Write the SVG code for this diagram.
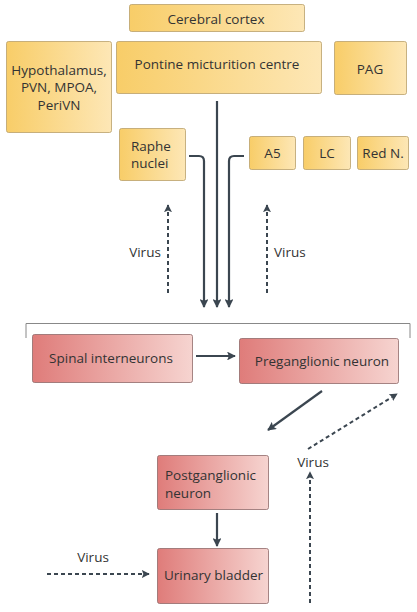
<svg xmlns="http://www.w3.org/2000/svg" width="417" height="612" viewBox="0 0 417 612">
<defs>
<linearGradient id="og" x1="0" y1="0" x2="1" y2="0"><stop offset="0" stop-color="#f8cd68"/><stop offset="1" stop-color="#fde7b6"/></linearGradient>
<linearGradient id="rg" x1="0" y1="0" x2="1" y2="0"><stop offset="0" stop-color="#df7c7a"/><stop offset="1" stop-color="#f6d4d0"/></linearGradient>
<marker id="ah" viewBox="0 0 10 10" refX="9" refY="5" markerWidth="4" markerHeight="4" orient="auto" markerUnits="strokeWidth"><path d="M0,0 L10,5 L0,10 L2,5 z" fill="#3b4650"/></marker>
<marker id="ahd" viewBox="0 0 10 10" refX="9" refY="5" markerWidth="4" markerHeight="4" orient="auto" markerUnits="strokeWidth"><path d="M0,0 L10,5 L0,10 L2,5 z" fill="#3b4650"/></marker>
</defs>
<style>
.o{fill:url(#og);stroke:#b9a06a;stroke-width:0.8}
.r{fill:url(#rg);stroke:#8f6a6a;stroke-width:0.8}
text{font-family:"Open Sans","Liberation Sans",sans-serif;font-size:13.5px;fill:#333;}
.c{text-anchor:middle}
.ln{fill:none;stroke:#3b4650;stroke-width:2.2}
.d{fill:none;stroke:#3b4650;stroke-width:2;stroke-dasharray:4 3}
</style>
<rect width="417" height="612" fill="#fff"/>
<g id="cortex"><rect class="o" x="129.5" y="4.5" width="175" height="27" rx="2"/><text class="c" x="216" y="24">Cerebral cortex</text></g>
<g id="hypothalamus"><rect class="o" x="6.5" y="41.5" width="105" height="91" rx="2"/><text class="c" x="59" y="75">Hypothalamus,</text><text class="c" x="59" y="92">PVN, MPOA,</text><text class="c" x="59" y="110">PeriVN</text></g>
<g id="pmc"><rect class="o" x="116.5" y="41.5" width="205" height="52" rx="2"/><text class="c" x="217" y="69">Pontine micturition centre</text></g>
<g id="pag"><rect class="o" x="334.5" y="41.5" width="72" height="53" rx="2"/><text class="c" x="370" y="74">PAG</text></g>
<g id="raphe"><rect class="o" x="119.5" y="128.5" width="66" height="52" rx="2"/><text x="131" y="151">Raphe</text><text x="131" y="168">nuclei</text></g>
<g id="a5"><rect class="o" x="249.5" y="136.5" width="46" height="33" rx="2"/><text class="c" x="272.5" y="158">A5</text></g>
<g id="lc"><rect class="o" x="303.5" y="136.5" width="47" height="33" rx="2"/><text class="c" x="327" y="158">LC</text></g>
<g id="redn"><rect class="o" x="357.5" y="136.5" width="51" height="33" rx="2"/><text class="c" x="383" y="158">Red N.</text></g>
<g id="bracket"><path d="M26,338 V323.5 H410 V338" fill="none" stroke="#888" stroke-width="1"/></g>
<g id="spinal"><rect class="r" x="32.5" y="334.5" width="160" height="48" rx="2"/><text class="c" x="111" y="363">Spinal interneurons</text></g>
<g id="preganglionic"><rect class="r" x="239.5" y="338.5" width="159" height="45" rx="2"/><text class="c" x="322" y="366">Preganglionic neuron</text></g>
<g id="postganglionic"><rect class="r" x="157.5" y="455.5" width="111" height="54" rx="2"/><text x="165" y="480">Postganglionic</text><text x="165" y="498">neuron</text></g>
<g id="bladder"><rect class="r" x="157.5" y="548.5" width="111" height="55" rx="2"/><text x="164" y="580">Urinary bladder</text></g>
<g id="connectors">
<path class="ln" d="M217,101 V307" marker-end="url(#ah)"/>
<path class="ln" d="M189,156 H199 Q204,156 204,161 V307" marker-end="url(#ah)"/>
<path class="ln" d="M244,156 H234 Q229,156 229,161 V307" marker-end="url(#ah)"/>
<path class="d" d="M168,293 V205" marker-end="url(#ahd)"/>
<path class="d" d="M267,293 V205" marker-end="url(#ahd)"/>
<path class="ln" d="M196,356 H235" marker-end="url(#ah)"/>
<path class="ln" d="M322,391 L268,430" marker-end="url(#ah)"/>
<path class="d" d="M308,449 L397,394" marker-end="url(#ahd)"/>
<path class="d" d="M310,603 V472" marker-end="url(#ahd)"/>
<path class="ln" d="M217,513 V546" marker-end="url(#ah)"/>
<path class="d" d="M47,574 H149" marker-end="url(#ahd)"/>
<text class="c" x="145" y="257">Virus</text>
<text x="274" y="257">Virus</text>
<text class="c" x="313" y="467">Virus</text>
<text class="c" x="93" y="562">Virus</text>
</g>
</svg>
